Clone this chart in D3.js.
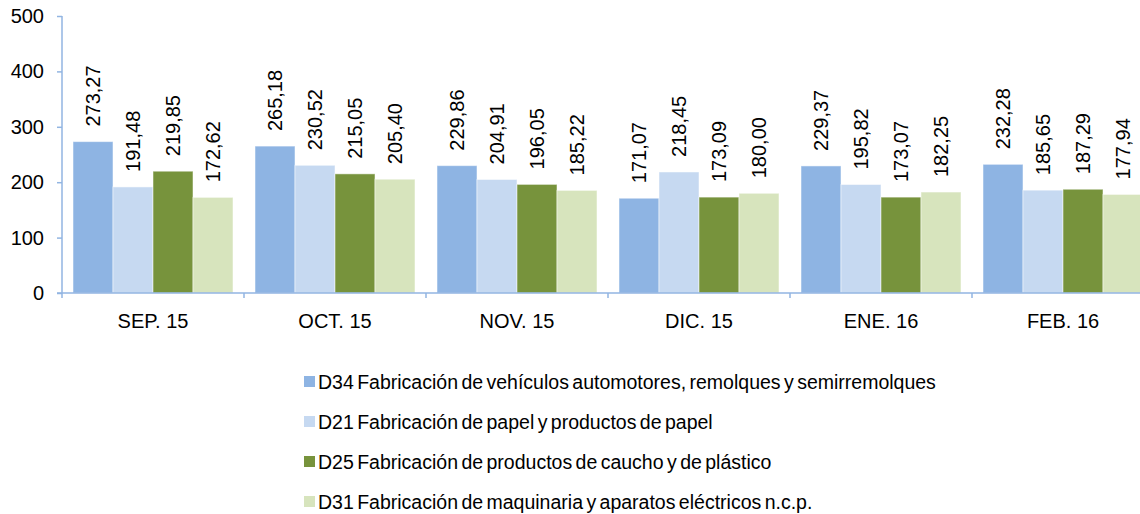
<!DOCTYPE html>
<html>
<head>
<meta charset="utf-8">
<script src="https://cdn.jsdelivr.net/npm/d3@7"></script>
<style>
  body { margin: 0; background: #fff; }
  svg { display: block; font-family: "Liberation Sans", Arial, sans-serif; }
</style>
</head>
<body>
<svg id="chart" width="1140" height="514"></svg>
<script>
// months on the x axis
const months = ["SEP. 15", "OCT. 15", "NOV. 15", "DIC. 15", "ENE. 16", "FEB. 16"];

// series names (legend)
const seriesNames = [
  "D34 Fabricación de vehículos automotores, remolques y semirremolques",
  "D21 Fabricación de papel y productos de papel",
  "D25 Fabricación de productos de caucho y de plástico",
  "D31 Fabricación de maquinaria y aparatos eléctricos n.c.p."
];

// values per series, one per month
const d34 = [273.27, 265.18, 229.86, 171.07, 229.37, 232.28];
const d21 = [191.48, 230.52, 204.91, 218.45, 195.82, 185.65];
const d25 = [219.85, 215.05, 196.05, 173.09, 173.07, 187.29];
const d31 = [172.62, 205.40, 185.22, 180.00, 182.25, 177.94];

const yTicks = [0, 100, 200, 300, 400, 500];

const colors = ["#8eb4e3", "#c6d9f1", "#77933c", "#d7e4bd"];
const axisColor = "#92b5e2";

const seriesValues = [d34, d21, d25, d31];
const fmt = v => v.toFixed(2).replace(".", ",");

const svg = d3.select("#chart");

const plotLeft = 62, plotTop = 16, plotBottom = 293;
const band = 182;

const x0 = d3.scaleBand()
  .domain(months)
  .range([plotLeft, plotLeft + band * months.length])
  .paddingInner(0).paddingOuter(0);

const x1 = d3.scaleBand()
  .domain(d3.range(seriesNames.length))
  .range([11, 171])
  .padding(0);

const y = d3.scaleLinear().domain([0, 500]).range([plotBottom, plotTop]);

// bars
const groups = svg.append("g")
  .selectAll("g")
  .data(months)
  .join("g")
  .attr("transform", d => `translate(${x0(d)},0)`);

groups.selectAll("rect")
  .data((m, i) => seriesValues.map((vals, s) => ({ s, v: vals[i] })))
  .join("rect")
  .attr("x", d => x1(d.s))
  .attr("y", d => y(d.v))
  .attr("width", x1.bandwidth())
  .attr("height", d => y(0) - y(d.v))
  .attr("fill", d => colors[d.s])
  .attr("stroke", "#ffffff")
  .attr("stroke-opacity", 0.5)
  .attr("stroke-width", 1);

// value labels, rotated
groups.selectAll("text")
  .data((m, i) => seriesValues.map((vals, s) => ({ s, v: vals[i] })))
  .join("text")
  .attr("transform", d => `translate(${x1(d.s) + x1.bandwidth() / 2},${y(d.v) - 15}) rotate(-90)`)
  .attr("dy", "0.36em")
  .attr("font-size", 20)
  .attr("fill", "#000")
  .text(d => fmt(d.v));

// y axis
const yAxis = svg.append("g")
  .attr("transform", `translate(${plotLeft},0)`)
  .call(d3.axisLeft(y).tickValues(yTicks).tickSize(5).tickPadding(13));
yAxis.select(".domain").attr("stroke", axisColor).attr("stroke-width", 1.5)
  .attr("d", `M0,${plotTop}V${plotBottom}`);
yAxis.selectAll(".tick line").attr("stroke", axisColor).attr("stroke-width", 1.5);
yAxis.selectAll(".tick text").attr("font-size", 20).attr("fill", "#000")
  .attr("font-family", "Liberation Sans, Arial, sans-serif");

// x axis
const xAxis = svg.append("g")
  .attr("transform", `translate(0,${plotBottom})`)
  .call(d3.axisBottom(x0).tickSize(0).tickPadding(0));
xAxis.select(".domain").attr("stroke", axisColor).attr("stroke-width", 1.5)
  .attr("d", `M${plotLeft - 5},0H1140`);
xAxis.selectAll(".tick text")
  .attr("y", 28)
  .attr("dy", "0.36em")
  .attr("font-size", 20).attr("fill", "#000")
  .attr("font-family", "Liberation Sans, Arial, sans-serif");

// boundary ticks between months
svg.append("g")
  .selectAll("line")
  .data(months.concat(["end"]))
  .join("line")
  .attr("x1", (d, i) => plotLeft + band * i)
  .attr("x2", (d, i) => plotLeft + band * i)
  .attr("y1", plotBottom)
  .attr("y2", plotBottom + 5)
  .attr("stroke", axisColor)
  .attr("stroke-width", 1.5);

// legend
const legend = svg.append("g").attr("transform", "translate(304,376)");
const items = legend.selectAll("g")
  .data(seriesNames)
  .join("g")
  .attr("transform", (d, i) => `translate(0,${i * 40})`);
items.append("rect")
  .attr("width", 11).attr("height", 11)
  .attr("fill", (d, i) => colors[i]);
items.append("text")
  .attr("x", 14)
  .attr("y", 6)
  .attr("dy", "0.36em")
  .attr("font-size", 19.5)
  .attr("word-spacing", -2)
  .attr("fill", "#000")
  .text(d => d);
</script>
</body>
</html>
